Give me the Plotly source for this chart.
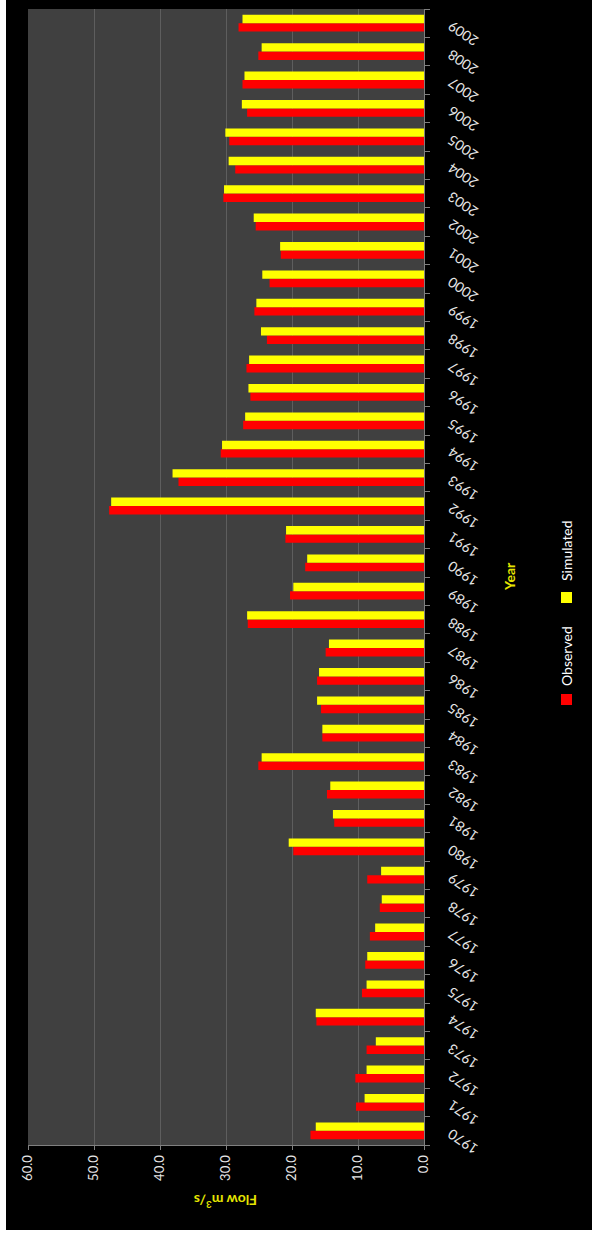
import plotly.graph_objects as go

years = [str(y) for y in range(1970, 2010)]
observed = [17.2, 10.3, 10.4, 8.7, 16.3, 9.4, 8.9, 8.2, 6.7, 8.6,
            19.8, 13.6, 14.7, 25.1, 15.4, 15.6, 16.2, 14.9, 26.7, 20.3,
            18.0, 21.0, 47.7, 37.2, 30.8, 27.4, 26.3, 26.9, 23.8, 25.7,
            23.4, 21.7, 25.5, 30.4, 28.6, 29.5, 26.8, 27.5, 25.1, 28.1]
simulated = [16.4, 9.0, 8.7, 7.3, 16.4, 8.7, 8.6, 7.4, 6.4, 6.5,
             20.5, 13.8, 14.2, 24.6, 15.4, 16.2, 15.9, 14.4, 26.8, 19.8,
             17.7, 20.9, 47.4, 38.1, 30.6, 27.1, 26.6, 26.5, 24.7, 25.4,
             24.5, 21.8, 25.8, 30.3, 29.6, 30.1, 27.6, 27.2, 24.6, 27.5]
value_ticks = [0, 10, 20, 30, 40, 50, 60]
series_names = ["Observed", "Simulated"]
x_title = "Flow m<sup>3</sup>/s"
y_title = "Year"

FONT = "Lato"
W, H = 586, 1230
ML, MR, MT, MB = 22, 168, 9, 85
PW = W - ML - MR
PH = H - MT - MB


def px_x(px):  # page pixel x -> paper fraction
    return (px - 6 - ML) / PW


def px_y(py):  # page pixel y -> paper fraction
    return (H - MB - py) / PH


fig = go.Figure()
fig.add_trace(go.Bar(y=years, x=observed, name=series_names[0], orientation="h",
                     marker=dict(color="#ff0000", line=dict(width=0))))
fig.add_trace(go.Bar(y=years, x=simulated, name=series_names[1], orientation="h",
                     marker=dict(color="#ffff00", line=dict(width=0))))

annotations = []
for i, y in enumerate(years):
    annotations.append(dict(x=px_x(463), xref="paper", y=i, yref="y", yshift=-11,
                            text=y, showarrow=False, textangle=-146,
                            xanchor="center", yanchor="middle",
                            font=dict(family=FONT, size=14, color="#e6e6e6")))
annotations.append(dict(x=0.5, xref="paper", y=px_y(1202), yref="paper",
                        text="<b>" + x_title + "</b>", showarrow=False, textangle=180,
                        xanchor="center", yanchor="middle",
                        font=dict(family=FONT, size=14, color="#e5e500")))
annotations.append(dict(x=px_x(509), xref="paper", y=px_y(577), yref="paper",
                        text="<b>" + y_title + "</b>", showarrow=False, textangle=-90,
                        xanchor="center", yanchor="middle",
                        font=dict(family=FONT, size=14, color="#e5e500")))
annotations.append(dict(x=px_x(566), xref="paper", y=px_y(656), yref="paper",
                        text=series_names[0], showarrow=False, textangle=-90,
                        xanchor="center", yanchor="middle",
                        font=dict(family=FONT, size=14, color="#ffffff")))
annotations.append(dict(x=px_x(566), xref="paper", y=px_y(551), yref="paper",
                        text=series_names[1], showarrow=False, textangle=-90,
                        xanchor="center", yanchor="middle",
                        font=dict(family=FONT, size=14, color="#ffffff")))

shapes = [
    dict(type="rect", xref="paper", yref="paper", x0=px_x(561), x1=px_x(572),
         y0=px_y(705), y1=px_y(694), fillcolor="#ff0000", line=dict(width=0)),
    dict(type="rect", xref="paper", yref="paper", x0=px_x(561), x1=px_x(572),
         y0=px_y(603), y1=px_y(592), fillcolor="#ffff00", line=dict(width=0)),
]

fig.update_layout(
    width=W, height=H,
    margin=dict(l=ML, r=MR, t=MT, b=MB, pad=0),
    paper_bgcolor="#000000", plot_bgcolor="#404040",
    barmode="group", bargap=0.41, bargroupgap=0,
    showlegend=False,
    font=dict(family=FONT, color="#e6e6e6"),
    annotations=annotations, shapes=shapes,
    xaxis=dict(range=[60, 0], tickvals=value_ticks, tickformat=".1f", tickangle=-90,
               showgrid=True, gridcolor="#5e5e5e", gridwidth=1, zeroline=False,
               ticks="outside", ticklen=4, tickcolor="#808080",
               showline=True, linecolor="#808080", linewidth=1,
               tickfont=dict(family=FONT, size=13, color="#e6e6e6")),
    yaxis=dict(type="category", categoryorder="array", categoryarray=years,
               range=[-0.5, len(years) - 0.5], autorange=False,
               side="right", showticklabels=False, showgrid=False,
               ticks="outside", tickson="boundaries", ticklen=5, tickcolor="#808080",
               showline=True, linecolor="#808080", linewidth=1),
)

fig.write_html("out.html",
               post_script="document.body.style.margin='0';document.body.style.padding='0 0 0 6px';document.body.style.background='#ffffff';")
